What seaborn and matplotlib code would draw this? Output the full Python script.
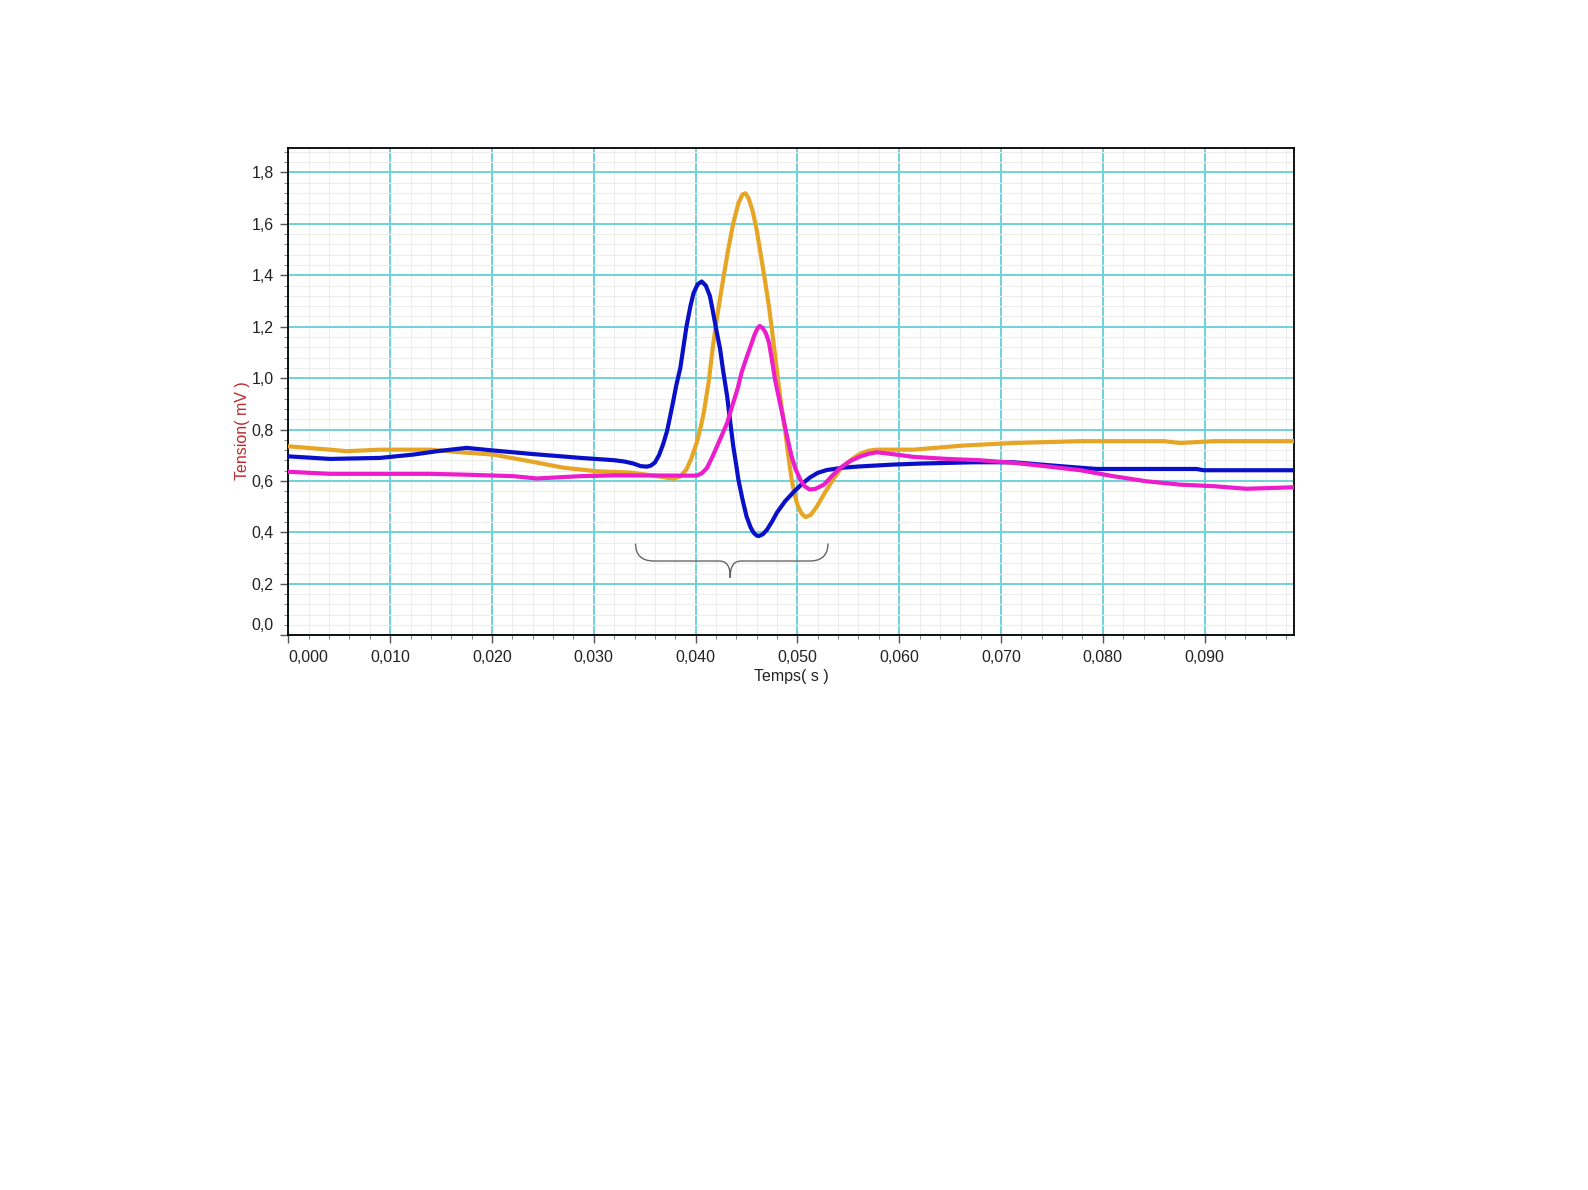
#!/usr/bin/env python3
"""Nerve action potentials recorded at three electrodes (Tension vs Temps)."""

import numpy as np
import pandas as pd
import matplotlib
matplotlib.use("Agg")
import matplotlib.pyplot as plt
import seaborn as sns
from matplotlib.path import Path
from matplotlib.patches import PathPatch
from matplotlib.ticker import MultipleLocator, FuncFormatter
from matplotlib.transforms import ScaledTranslation

# --- data (s, mV) ---
blue_t = [0.0000, 0.0041, 0.0090, 0.0123, 0.0146, 0.0175, 0.0198, 0.0237, 0.0287,
          0.0320, 0.0330, 0.0339, 0.0346, 0.0352, 0.0356, 0.0360, 0.0364, 0.0368,
          0.0372, 0.0375, 0.0378, 0.0381, 0.0385, 0.0388, 0.0391, 0.0395, 0.0398,
          0.0402, 0.0406, 0.0410, 0.0414, 0.0417, 0.0420, 0.0424, 0.0427, 0.0431,
          0.0434, 0.0437, 0.0440, 0.0442, 0.0446, 0.0450, 0.0454, 0.0457, 0.0460,
          0.0462, 0.0466, 0.0470, 0.0475, 0.0480, 0.0488, 0.0496, 0.0504, 0.0512,
          0.0520, 0.0529, 0.0545, 0.0562, 0.0594, 0.0621, 0.0673, 0.0712, 0.0761,
          0.0794, 0.0892, 0.0899, 0.0988]
blue_v = [0.696, 0.686, 0.690, 0.703, 0.716, 0.729, 0.720, 0.706, 0.690,
          0.681, 0.676, 0.668, 0.658, 0.656, 0.660, 0.672, 0.700, 0.742,
          0.795, 0.852, 0.910, 0.972, 1.040, 1.120, 1.200, 1.282, 1.331,
          1.365, 1.376, 1.360, 1.320, 1.260, 1.195, 1.115, 1.030, 0.929,
          0.830, 0.735, 0.660, 0.606, 0.530, 0.463, 0.420, 0.399, 0.388,
          0.386, 0.393, 0.410, 0.442, 0.478, 0.522, 0.556, 0.587, 0.613,
          0.632, 0.643, 0.652, 0.657, 0.664, 0.668, 0.673, 0.673, 0.657,
          0.647, 0.647, 0.642, 0.642]

orange_t = [0.0000, 0.0041, 0.0057, 0.0090, 0.0139, 0.0172, 0.0201, 0.0237, 0.0270,
            0.0303, 0.0336, 0.0359, 0.0378, 0.0385, 0.0391, 0.0396, 0.0401, 0.0405,
            0.0408, 0.0413, 0.0417, 0.0422, 0.0427, 0.0432, 0.0437, 0.0442, 0.0446,
            0.0449, 0.0452, 0.0456, 0.0460, 0.0464, 0.0468, 0.0472, 0.0475, 0.0478,
            0.0481, 0.0484, 0.0488, 0.0491, 0.0494, 0.0497, 0.0500, 0.0504, 0.0508,
            0.0513, 0.0519, 0.0527, 0.0535, 0.0542, 0.0549, 0.0556, 0.0562, 0.0570,
            0.0578, 0.0614, 0.0663, 0.0712, 0.0778, 0.0860, 0.0876, 0.0909, 0.0988]
orange_v = [0.735, 0.722, 0.716, 0.722, 0.722, 0.711, 0.703, 0.677, 0.652,
            0.638, 0.633, 0.621, 0.609, 0.618, 0.645, 0.690, 0.748, 0.810,
            0.865, 0.990, 1.124, 1.260, 1.383, 1.500, 1.603, 1.680, 1.714,
            1.719, 1.700, 1.650, 1.577, 1.480, 1.383, 1.280, 1.188, 1.090,
            0.994, 0.900, 0.795, 0.700, 0.615, 0.550, 0.508, 0.474, 0.460,
            0.468, 0.500, 0.555, 0.606, 0.645, 0.671, 0.692, 0.707, 0.718,
            0.722, 0.722, 0.738, 0.748, 0.755, 0.755, 0.748, 0.755, 0.755]

magenta_t = [0.0000, 0.0041, 0.0139, 0.0172, 0.0221, 0.0244, 0.0287, 0.0320, 0.0401,
             0.0406, 0.0411, 0.0416, 0.0421, 0.0426, 0.0431, 0.0435, 0.0439, 0.0442,
             0.0445, 0.0450, 0.0454, 0.0458, 0.0461, 0.0463, 0.0466, 0.0469, 0.0472,
             0.0475, 0.0478, 0.0482, 0.0486, 0.0490, 0.0494, 0.0498, 0.0503, 0.0507,
             0.0512, 0.0518, 0.0526, 0.0534, 0.0542, 0.0552, 0.0562, 0.0570, 0.0578,
             0.0595, 0.0614, 0.0647, 0.0679, 0.0712, 0.0745, 0.0778, 0.0810, 0.0843,
             0.0876, 0.0909, 0.0941, 0.0974, 0.0988]
magenta_v = [0.636, 0.628, 0.628, 0.625, 0.619, 0.610, 0.619, 0.622, 0.621,
             0.630, 0.650, 0.690, 0.735, 0.780, 0.826, 0.880, 0.930, 0.970,
             1.020, 1.080, 1.124, 1.170, 1.195, 1.203, 1.195, 1.175, 1.140,
             1.070, 0.994, 0.920, 0.845, 0.770, 0.700, 0.648, 0.604, 0.580,
             0.567, 0.570, 0.586, 0.620, 0.651, 0.678, 0.696, 0.706, 0.712,
             0.704, 0.694, 0.686, 0.681, 0.671, 0.657, 0.642, 0.619, 0.599,
             0.586, 0.580, 0.570, 0.574, 0.576]

# curly brace under the QRS complex (annotation)
BRACE_X0, BRACE_X1, BRACE_XC = 0.0341, 0.0530, 0.0434
BRACE_YTOP, BRACE_YMID, BRACE_YTIP = 0.357, 0.289, 0.224

COLORS = {"orange": "#E6A524", "blue": "#0A10C8", "magenta": "#EC1ECB"}

df = pd.concat([
    pd.DataFrame({"t": orange_t, "v": orange_v, "voie": "orange"}),
    pd.DataFrame({"t": blue_t, "v": blue_v, "voie": "blue"}),
    pd.DataFrame({"t": magenta_t, "v": magenta_v, "voie": "magenta"}),
])

sns.set_style("white")
plt.rcParams['font.family'] = ['Liberation Sans', 'DejaVu Sans']

fig = plt.figure(figsize=(15.88, 11.90), dpi=100)
ax = fig.add_axes([0.1816, 0.4661, 0.8150 - 0.1816, 0.8754 - 0.4661])

sns.lineplot(data=df, x="t", y="v", hue="voie", palette=COLORS, sort=False,
             linewidth=3.0, legend=False, ax=ax, zorder=3)
for ln in ax.get_lines():
    ln.set_solid_joinstyle('round')

ax.set_xlim(0, 0.0988)
ax.set_ylim(0, 1.894)

ax.xaxis.set_major_locator(MultipleLocator(0.01))
ax.xaxis.set_minor_locator(MultipleLocator(0.002))
ax.yaxis.set_major_locator(MultipleLocator(0.2))
ax.yaxis.set_minor_locator(MultipleLocator(0.04))
ax.xaxis.set_major_formatter(FuncFormatter(lambda v, p: f"{v:.3f}".replace('.', ',')))
ax.yaxis.set_major_formatter(FuncFormatter(lambda v, p: f"{v:.1f}".replace('.', ',')))

ax.grid(which='minor', color='#EDEDED', linewidth=0.8, zorder=0)
ax.grid(which='major', color='#6FD3DA', linewidth=1.4, zorder=1)
ax.set_axisbelow(True)

for s in ax.spines.values():
    s.set_color('black')
    s.set_linewidth(1.3)

ax.tick_params(which='major', direction='out', length=6, width=1, color='#555555',
               labelsize=11.5, labelcolor='#222222', pad=4.5, left=True, bottom=True)
ax.tick_params(which='minor', direction='out', length=3, width=0.8, color='#888888',
               left=True, bottom=True)

# the screenshot keeps edge labels inside the axes
fig.canvas.draw()
for lbl in ax.get_xticklabels():
    if lbl.get_text() == "0,000":
        lbl.set_horizontalalignment('left')
for lbl in ax.get_yticklabels():
    if lbl.get_text() == "0,0":
        lbl.set_transform(lbl.get_transform() + ScaledTranslation(0, 0.11, fig.dpi_scale_trans))

ax.set_xlabel("Temps( s )", fontsize=11.5, color='#222222', labelpad=3)
ax.set_ylabel("Tension( mV )", fontsize=11.5, color='#C0282D')
ax.yaxis.set_label_coords(-0.038, 0.42)

# curly brace
r = 0.0018
r2 = 0.0011
verts = [
    (BRACE_X0, BRACE_YTOP), (BRACE_X0, BRACE_YMID), (BRACE_X0 + r, BRACE_YMID),
    (BRACE_XC - r2, BRACE_YMID),
    (BRACE_XC - 0.3 * r2, BRACE_YMID), (BRACE_XC, BRACE_YMID - 0.3 * (BRACE_YMID - BRACE_YTIP)), (BRACE_XC, BRACE_YTIP),
    (BRACE_XC, BRACE_YMID - 0.3 * (BRACE_YMID - BRACE_YTIP)), (BRACE_XC + 0.3 * r2, BRACE_YMID), (BRACE_XC + r2, BRACE_YMID),
    (BRACE_X1 - r, BRACE_YMID),
    (BRACE_X1, BRACE_YMID), (BRACE_X1, BRACE_YTOP),
]
codes = [Path.MOVETO, Path.CURVE3, Path.CURVE3,
         Path.LINETO,
         Path.CURVE4, Path.CURVE4, Path.CURVE4,
         Path.CURVE4, Path.CURVE4, Path.CURVE4,
         Path.LINETO,
         Path.CURVE3, Path.CURVE3]
ax.add_patch(PathPatch(Path(verts, codes), facecolor='none', edgecolor='#666666',
                       linewidth=1.0, zorder=4))

fig.savefig("out.png", dpi=100, facecolor='white')
